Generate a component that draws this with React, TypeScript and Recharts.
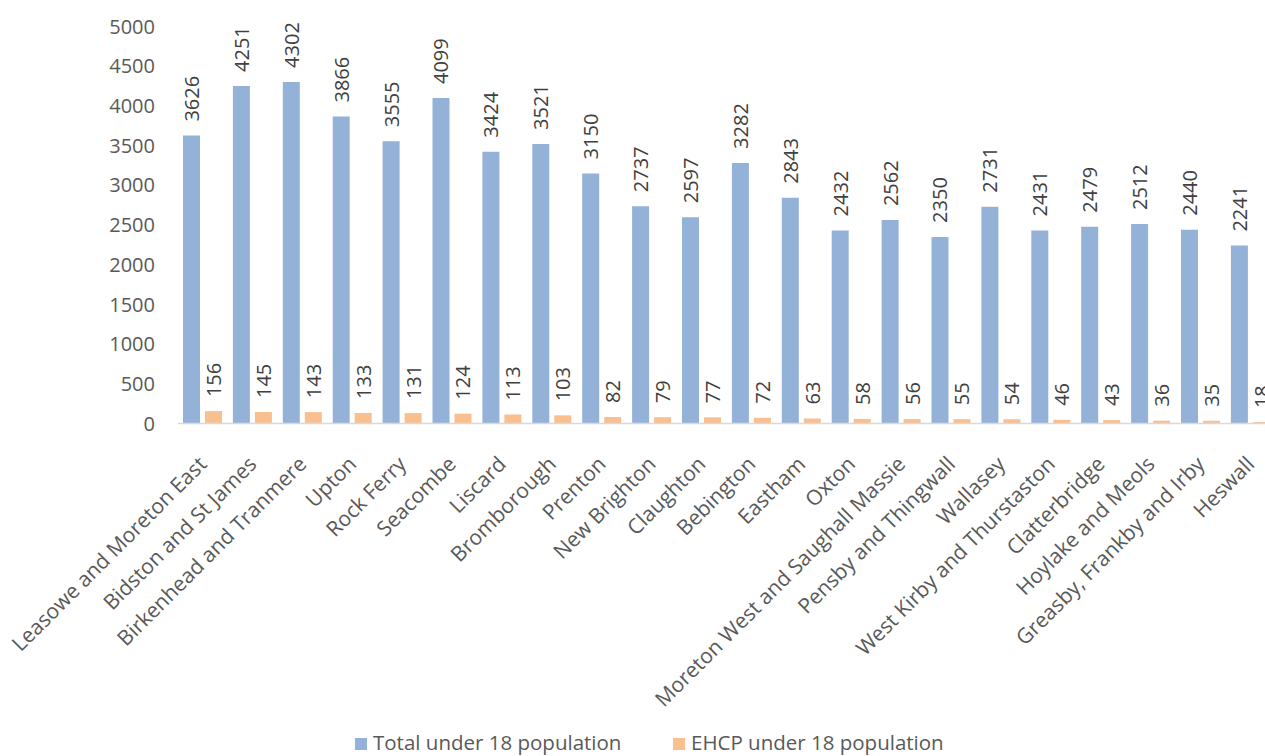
import React from "react";
import { BarChart, Bar, XAxis, YAxis, LabelList } from "recharts";

const wards = [
  "Leasowe and Moreton East",
  "Bidston and St James",
  "Birkenhead and Tranmere",
  "Upton",
  "Rock Ferry",
  "Seacombe",
  "Liscard",
  "Bromborough",
  "Prenton",
  "New Brighton",
  "Claughton",
  "Bebington",
  "Eastham",
  "Oxton",
  "Moreton West and Saughall Massie",
  "Pensby and Thingwall",
  "Wallasey",
  "West Kirby and Thurstaston",
  "Clatterbridge",
  "Hoylake and Meols",
  "Greasby, Frankby and Irby",
  "Heswall",
];

const totalUnder18 = [
  3626, 4251, 4302, 3866, 3555, 4099, 3424, 3521, 3150, 2737, 2597, 3282, 2843,
  2432, 2562, 2350, 2731, 2431, 2479, 2512, 2440, 2241,
];

const ehcpUnder18 = [
  156, 145, 143, 133, 131, 124, 113, 103, 82, 79, 77, 72, 63, 58, 56, 55, 54,
  46, 43, 36, 35, 18,
];

const yTicks = [0, 500, 1000, 1500, 2000, 2500, 3000, 3500, 4000, 4500, 5000];

const BLUE = "#94B2D7";
const ORANGE = "#F9BF8F";
const FONT = "'Open Sans', Lato, sans-serif";

const data = wards.map((w, i) => ({
  ward: w,
  total: totalUnder18[i],
  ehcp: ehcpUnder18[i],
}));

function ValueLabel(props: any) {
  const { x, y, width, value } = props;
  const cx = x + width / 2;
  const cy = y - 14;
  return (
    <text
      x={cx}
      y={cy}
      transform={`rotate(-90, ${cx}, ${cy})`}
      textAnchor="start"
      dominantBaseline="central"
      fill="#404040"
      fontSize={20}
      fontFamily={FONT}
    >
      {value}
    </text>
  );
}

function WardTick(props: any) {
  const { x, y, payload } = props;
  const px = x + 5;
  const py = y + 34;
  return (
    <text
      x={px}
      y={py}
      transform={`rotate(-45, ${px}, ${py})`}
      textAnchor="end"
      fill="#595959"
      fontSize={21}
      fontFamily={FONT}
    >
      {payload.value}
    </text>
  );
}

function LegendBox() {
  const item = (color: string, label: string, left: number) => (
    <React.Fragment key={label}>
      <span
        style={{
          position: "absolute",
          left,
          top: 738,
          width: 12,
          height: 12,
          background: color,
        }}
      />
      <span
        style={{
          position: "absolute",
          left: left + 18,
          top: 731,
          lineHeight: "22px",
          fontFamily: FONT,
          fontSize: 20.5,
          color: "#595959",
          whiteSpace: "nowrap",
        }}
      >
        {label}
      </span>
    </React.Fragment>
  );
  return (
    <>
      {item(BLUE, "Total under 18 population", 355)}
      {item(ORANGE, "EHCP under 18 population", 673)}
    </>
  );
}

export default function App() {
  return (
    <div
      style={{
        position: "absolute",
        left: 0,
        top: 0,
        width: 1265,
        height: 756,
        overflow: "hidden",
        background: "#fff",
      }}
    >
      <BarChart
        width={1290}
        height={756}
        data={data}
        margin={{ top: 26.5, right: 14.2, left: 0, bottom: 0 }}
        barSize={17}
        barGap={5}
      >
        <YAxis
          width={178}
          domain={[0, 5000]}
          ticks={yTicks}
          interval={0}
          axisLine={false}
          tickLine={false}
          tickSize={0}
          tickMargin={23}
          tick={{ fill: "#595959", fontSize: 20, fontFamily: FONT }}
        />
        <XAxis
          dataKey="ward"
          height={332.5}
          interval={0}
          tickLine={false}
          axisLine={{ stroke: "#D9D9D9", strokeWidth: 1.5 }}
          tick={<WardTick />}
        />
        <Bar dataKey="total" fill={BLUE} isAnimationActive={false}>
          <LabelList dataKey="total" content={<ValueLabel />} />
        </Bar>
        <Bar dataKey="ehcp" fill={ORANGE} isAnimationActive={false}>
          <LabelList dataKey="ehcp" content={<ValueLabel />} />
        </Bar>
      </BarChart>
      <LegendBox />
    </div>
  );
}
